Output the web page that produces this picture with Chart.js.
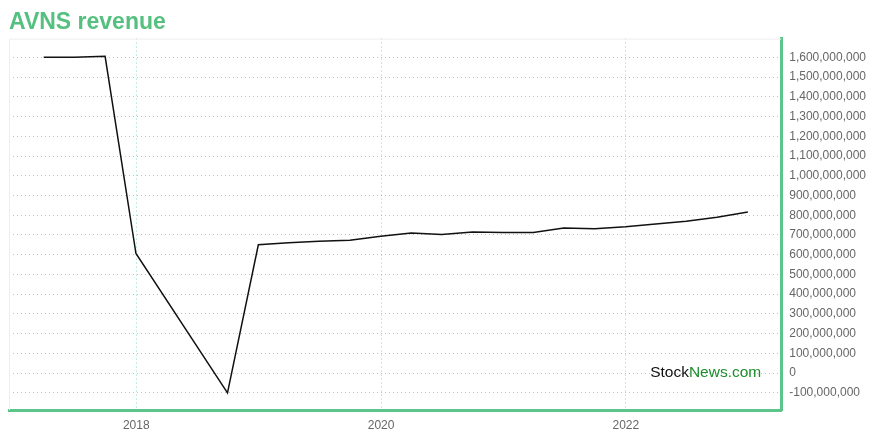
<!DOCTYPE html>
<html>
<head>
<meta charset="utf-8">
<script src="https://cdn.jsdelivr.net/npm/chart.js@4"></script>
<style>
  html, body { margin: 0; padding: 0; background: #fff; }
  #wrap { width: 880px; height: 440px; }
</style>
</head>
<body>
<div id="wrap"><canvas id="myChart"></canvas></div>
<script>
// quarter end dates and revenue
const dates = ['2017-03-31', '2017-06-30', '2017-09-30', '2017-12-31', '2018-09-30', '2018-12-31',
    '2019-03-31', '2019-06-30', '2019-09-30', '2019-12-31', '2020-03-31', '2020-06-30',
    '2020-09-30', '2020-12-31', '2021-03-31', '2021-06-30', '2021-09-30', '2021-12-31',
    '2022-03-31', '2022-06-30', '2022-09-30', '2022-12-31'];
const revenue = [1600e6, 1600e6, 1605e6, 606e6, -100e6, 650e6,
    660e6, 668e6, 673e6, 693e6, 710e6, 702e6,
    715e6, 712e6, 712e6, 735e6, 732e6, 741e6,
    755e6, 770e6, 790e6, 816e6];
const xTicks = [2018, 2020, 2022];
const yTicks = [-100e6, 0, 100e6, 200e6, 300e6, 400e6, 500e6, 600e6, 700e6, 800e6,
    900e6, 1000e6, 1100e6, 1200e6, 1300e6, 1400e6, 1500e6, 1600e6];

const green = '#5cc68a';
const gridGreen = 'rgba(60, 200, 120, 0.6)';

function toYear(s) {
    const d = new Date(s + 'T00:00:00Z');
    const start = Date.UTC(d.getUTCFullYear(), 0, 1);
    return d.getUTCFullYear() + (d - start) / (365 * 86400000);
}

const points = dates.map((d, i) => ({ x: toYear(d), y: revenue[i] }));

const frame = {
    id: 'frame',
    beforeDatasetsDraw(c) {
        const a = c.chartArea, ctx = c.ctx;
        ctx.save();
        ctx.strokeStyle = '#eeeeee';
        ctx.lineWidth = 1;
        ctx.beginPath();
        ctx.moveTo(a.left + 0.5, a.bottom);
        ctx.lineTo(a.left + 0.5, a.top + 0.5);
        ctx.lineTo(a.right, a.top + 0.5);
        ctx.stroke();
        ctx.restore();
    },
    afterDraw(c) {
        const a = c.chartArea, ctx = c.ctx;
        ctx.save();
        ctx.font = '15.5px "Liberation Sans", Arial, sans-serif';
        ctx.textBaseline = 'middle';
        const w1 = ctx.measureText('Stock').width;
        const w2 = ctx.measureText('News.com').width;
        const x = a.right - 20 - w1 - w2;
        const y = c.scales.y.getPixelForValue(0);
        ctx.fillStyle = '#111';
        ctx.fillText('Stock', x, y);
        ctx.fillStyle = '#1c8c2c';
        ctx.fillText('News.com', x + w1, y);
        ctx.restore();
    }
};

const ctx = document.getElementById('myChart').getContext('2d');
new Chart(ctx, {
    type: 'line',
    data: {
        datasets: [{
            data: points,
            borderColor: '#111',
            borderWidth: 1.5,
            pointRadius: 0,
            fill: false,
            tension: 0
        }]
    },
    options: {
        responsive: true,
        maintainAspectRatio: false,
        animation: false,
        layout: { padding: { left: 9, right: 6, top: 9, bottom: 0 } },
        plugins: {
            legend: { display: false },
            tooltip: { enabled: false },
            title: {
                display: true,
                text: 'AVNS revenue',
                align: 'start',
                color: '#55c07f',
                font: { family: '"Liberation Sans", Arial, sans-serif', size: 23, weight: 'bold' },
                padding: { top: 0, bottom: 2 }
            }
        },
        scales: {
            x: {
                type: 'linear',
                min: 2016.96,
                max: 2023.27,
                afterBuildTicks: s => { s.ticks = xTicks.map(v => ({ value: v })); },
                afterFit: s => { s.height = 30; },
                ticks: {
                    color: '#666',
                    font: { family: '"Liberation Sans", Arial, sans-serif', size: 12 },
                    padding: 8,
                    maxRotation: 0,
                    callback: v => String(v)
                },
                grid: { color: gridGreen, drawTicks: false, lineWidth: 1 },
                border: { color: green, width: 3, dash: [1, 3] }
            },
            y: {
                position: 'right',
                min: -187e6,
                max: 1695e6,
                afterBuildTicks: s => { s.ticks = yTicks.map(v => ({ value: v })); },
                ticks: {
                    color: '#666',
                    font: { family: '"Liberation Sans", Arial, sans-serif', size: 12 },
                    padding: 8,
                    callback: v => v.toLocaleString('en-US')
                },
                grid: { color: gridGreen, drawTicks: false, lineWidth: 1 },
                border: { color: green, width: 3, dash: [1, 3] }
            }
        }
    },
    plugins: [frame]
});
</script>
</body>
</html>
